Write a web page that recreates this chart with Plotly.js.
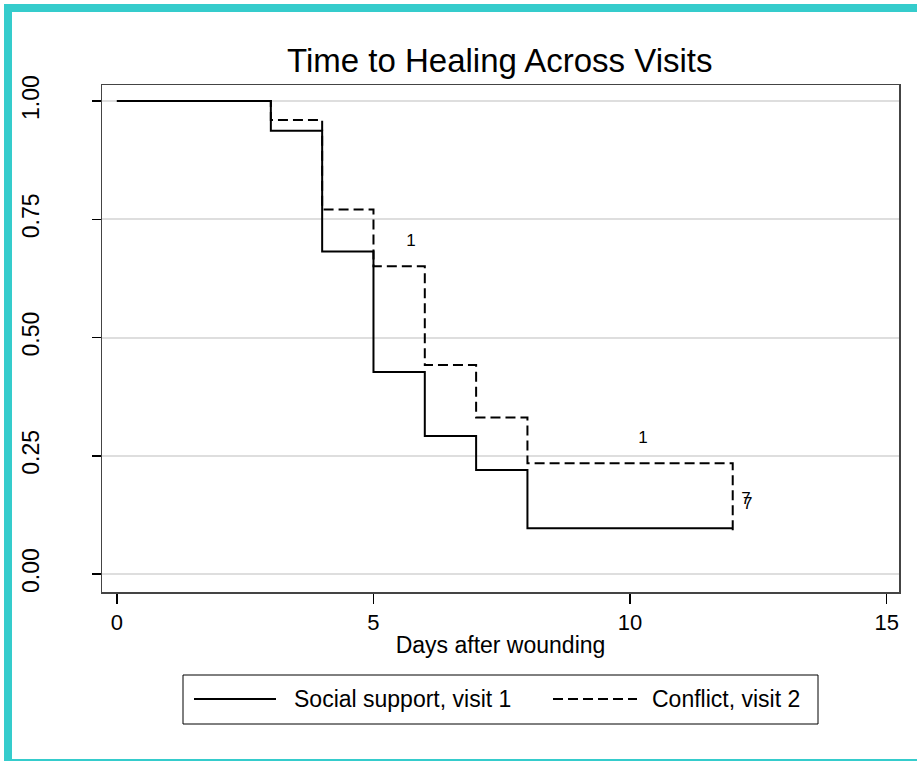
<!DOCTYPE html>
<html>
<head>
<meta charset="utf-8">
<script src="https://cdn.plot.ly/plotly-3.0.1.min.js"></script>
<style>
  html, body { margin: 0; padding: 0; background: #fff; }
  #wrap { position: relative; width: 917px; height: 761px; overflow: hidden; }
  #chart { position: absolute; left: 0; top: 0; width: 917px; height: 761px; }
  #frame { position: absolute; left: 4px; top: 4px; width: 905px; height: 747px;
           border-left: 8px solid #35cccc; border-top: 8px solid #35cccc;
           border-bottom: 2px solid #35cccc; pointer-events: none; }
</style>
</head>
<body>
<div id="wrap">
  <div id="chart"></div>
  <div id="frame"></div>
</div>
<script>
// ---- data ----
var days1 = [0, 3, 4, 5, 6, 7, 8, 12];
var surv1 = [1.00, 0.9375, 0.682, 0.427, 0.292, 0.220, 0.097, 0.097];
var days2 = [0, 3, 4, 5, 6, 7, 8, 12];
var surv2 = [1.00, 0.960, 0.771, 0.651, 0.442, 0.331, 0.234, 0.082];
var censX = [5.73, 10.25, 12.26, 12.29];
var censY = [0.703, 0.287, 0.158, 0.146];
var censText = ['1', '1', '7', '7'];
var name1 = 'Social support, visit 1';
var name2 = 'Conflict, visit 2';
var xTicks = [0, 5, 10, 15];
var yTicks = [0, 0.25, 0.5, 0.75, 1];
var yTickText = ['0.00', '0.25', '0.50', '0.75', '1.00'];

// ---- layout geometry (pixels) ----
var W = 917, H = 761;
var L = 102, R = 899, T = 85, B = 592;
function px(x) { return (x - L) / (R - L); }
function py(y) { return (B - y) / (B - T); }

var FONT = '"Liberation Sans", Arial, Helvetica, sans-serif';

var traces = [
  { x: days2, y: surv2, mode: 'lines', line: { shape: 'hv', color: '#000', width: 2, dash: '10px,5px' },
    name: name2, showlegend: false, hoverinfo: 'skip' },
  { x: days1, y: surv1, mode: 'lines', line: { shape: 'hv', color: '#000', width: 2 },
    name: name1, showlegend: false, hoverinfo: 'skip' },
  { x: censX, y: censY, mode: 'text', text: censText, textposition: 'middle center',
    textfont: { family: FONT, size: 17, color: '#000' }, showlegend: false, hoverinfo: 'skip' }
];

var legY = 699;
var layout = {
  width: W, height: H,
  margin: { l: L, r: W - R, t: T, b: H - B, pad: 0 },
  paper_bgcolor: '#fff', plot_bgcolor: '#fff',
  font: { family: FONT, color: '#000', size: 22 },
  showlegend: false,
  title: { text: 'Time to Healing Across Visits', font: { family: FONT, size: 33, color: '#000' },
           x: 0.545, xref: 'container', xanchor: 'center', y: 1 - 60 / H, yref: 'container', yanchor: 'middle' },
  xaxis: {
    range: [-0.29, 15.24], tickvals: xTicks, ticktext: xTicks.map(String),
    showgrid: false, zeroline: false,
    showline: true, mirror: true, linecolor: '#444', linewidth: 1.5,
    ticks: 'outside', ticklen: 10, tickwidth: 1.5, tickcolor: '#000',
    tickfont: { family: FONT, size: 22, color: '#000' },
    title: { text: 'Days after wounding', font: { family: FONT, size: 23, color: '#000' }, standoff: 3 }
  },
  yaxis: {
    range: [-0.038, 1.034], tickvals: yTicks, ticktext: yTickText,
    showgrid: true, gridcolor: '#dedede', gridwidth: 2, zeroline: false,
    showline: true, mirror: true, linecolor: '#444', linewidth: 1.5,
    ticks: 'outside', ticklen: 9, tickwidth: 1.5, tickcolor: '#000',
    tickangle: -90, ticklabelstandoff: 43,
    tickfont: { family: FONT, size: 23, color: '#000' }
  },
  shapes: [
    { type: 'rect', xref: 'paper', yref: 'paper', x0: px(183), x1: px(818), y0: py(724), y1: py(675),
      line: { color: '#000', width: 1 }, fillcolor: 'rgba(0,0,0,0)' },
    { type: 'line', xref: 'paper', yref: 'paper', x0: px(194), x1: px(276), y0: py(legY), y1: py(legY),
      line: { color: '#000', width: 2 } },
    { type: 'line', xref: 'paper', yref: 'paper', x0: px(553), x1: px(637), y0: py(legY), y1: py(legY),
      line: { color: '#000', width: 2, dash: '10px,5px' } }
  ],
  annotations: [
    { text: name1, xref: 'paper', yref: 'paper', x: px(292), y: py(legY), xanchor: 'left', yanchor: 'middle',
      showarrow: false, font: { family: FONT, size: 23, color: '#000' } },
    { text: name2, xref: 'paper', yref: 'paper', x: px(650), y: py(legY), xanchor: 'left', yanchor: 'middle',
      showarrow: false, font: { family: FONT, size: 23, color: '#000' } }
  ]
};

Plotly.newPlot('chart', traces, layout, { staticPlot: true, displayModeBar: false });
</script>
</body>
</html>
